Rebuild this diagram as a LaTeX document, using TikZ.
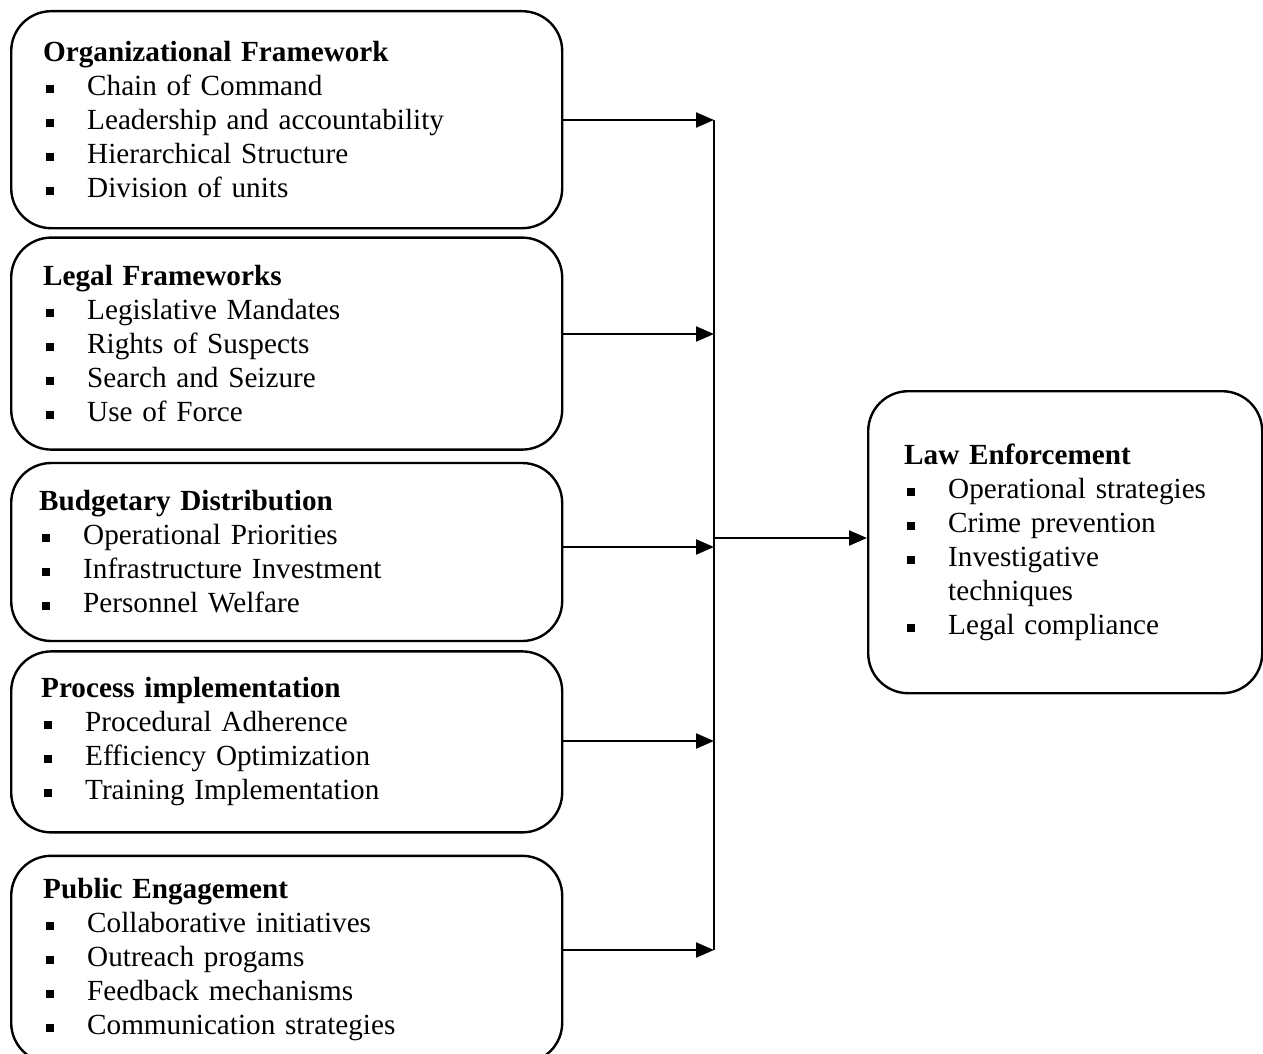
\documentclass[tikz,border=0pt]{standalone}
\usepackage{fontspec}
\setmainfont{Liberation Serif}
\usetikzlibrary{arrows.meta,positioning}

\newcommand{\bul}{\makebox[22pt][l]{\hspace{1.2pt}\raisebox{1.3pt}{\rule{4pt}{4pt}}}}

\begin{document}
\begin{tikzpicture}[x=0.5pt,y=-0.5pt,>={Triangle[length=9pt,width=7.5pt]},
                    box/.style={draw,line width=1.2pt,rounded corners=20pt,
                      align=left,inner ysep=0pt,
                      font=\fontsize{14.6}{17}\selectfont},
                    flow/.style={->,line width=1.1pt}]
  \useasboundingbox (0,0) rectangle (1263,1054);

  \node[box,inner xsep=16pt,text width=243.5pt,minimum height=108.5pt,
        anchor=north west] (org) at (10,10)
    {\textbf{Organizational Framework}\\
     \bul Chain of Command\\
     \bul Leadership and accountability\\
     \bul Hierarchical Structure\\
     \bul Division of units};
  \node[box,inner xsep=16pt,text width=243.5pt,minimum height=106pt]
    (legal) [below=3.5pt of org]
    {\textbf{Legal Frameworks}\\
     \bul Legislative Mandates\\
     \bul Rights of Suspects\\
     \bul Search and Seizure\\
     \bul Use of Force};
  \node[box,inner xsep=14pt,text width=247.5pt,minimum height=89pt]
    (budget) [below=5.5pt of legal]
    {\textbf{Budgetary Distribution}\\
     \bul Operational Priorities\\
     \bul Infrastructure Investment\\
     \bul Personnel Welfare};
  \node[box,inner xsep=15pt,text width=245.5pt,minimum height=90.5pt]
    (process) [below=4pt of budget]
    {\textbf{Process implementation}\\
     \bul Procedural Adherence\\
     \bul Efficiency Optimization\\
     \bul Training Implementation};
  \node[box,inner xsep=16pt,text width=243.5pt,minimum height=103.5pt]
    (public) [below=10.5pt of process]
    {\textbf{Public Engagement}\\
     \bul Collaborative initiatives\\
     \bul Outreach progams\\
     \bul Feedback mechanisms\\
     \bul Communication strategies};

  \node[box,inner xsep=18pt,text width=161pt,minimum height=151pt,
        anchor=north west] (law) at (867,390)
    {\textbf{Law Enforcement}\\
     \bul Operational strategies\\
     \bul Crime prevention\\
     \bul Investigative\\
     \hspace*{22pt}techniques\\
     \bul Legal compliance};

  % collecting line
  \coordinate (t1) at (714,120);
  \coordinate (t2) at (714,334);
  \coordinate (t3) at (714,547);
  \coordinate (t4) at (714,741);
  \coordinate (t5) at (714,950);
  \coordinate (j)  at (714,538);

  \draw[line width=0.6pt] (t1) -- (t5);

  \path (org.east |- t1)     edge[flow] (t1);
  \path (legal.east |- t2)   edge[flow] (t2);
  \path (budget.east |- t3)  edge[flow] (t3);
  \path (process.east |- t4) edge[flow] (t4);
  \path (public.east |- t5)  edge[flow] (t5);
  \path (j) edge[flow] (j -| law.west);
\end{tikzpicture}
\end{document}
